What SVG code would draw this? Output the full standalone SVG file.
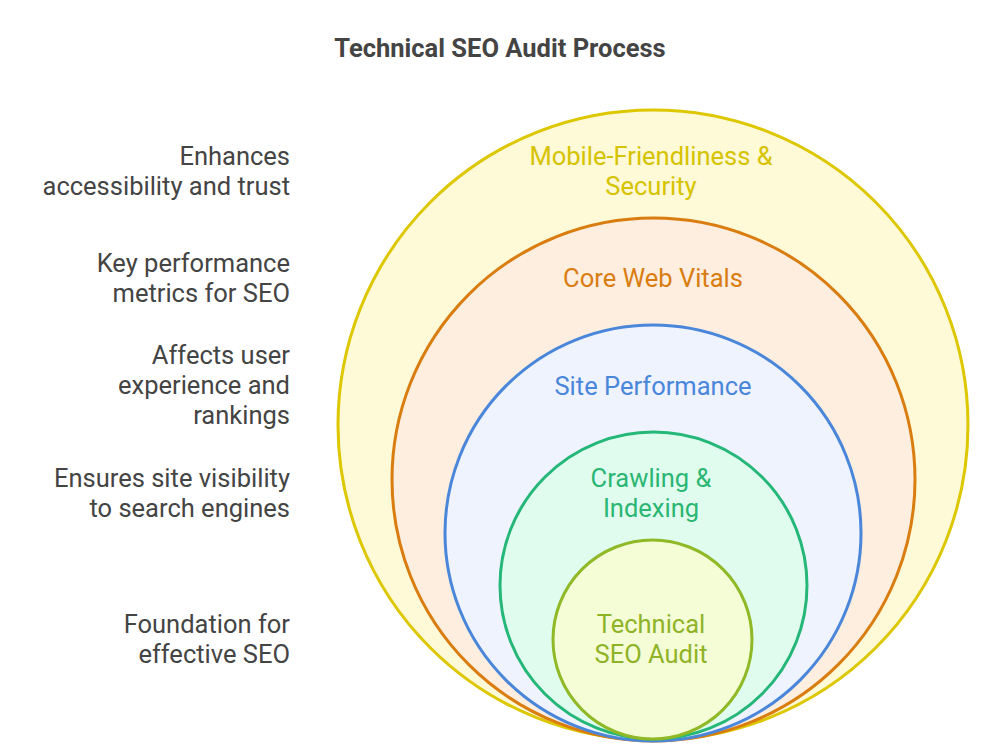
<svg xmlns="http://www.w3.org/2000/svg" width="1000" height="750" viewBox="0 0 1000 750">
<style>
text{font-family:Roboto,"Liberation Sans",sans-serif;font-size:25.5px}
.side{fill:#444;text-anchor:end}
.lbl{text-anchor:middle}
circle{stroke-width:3}
</style>
<rect width="1000" height="750" fill="#ffffff"/>
<text x="500" y="57" text-anchor="middle" font-weight="bold" fill="#444">Technical SEO Audit Process</text>
<g id="node-mobile">
<circle cx="653" cy="425" r="315" fill="#fef9d6" stroke="#dcc700"/>
<text class="lbl" x="651" y="165" fill="#d6c300">Mobile-Friendliness &amp;</text>
<text class="lbl" x="651" y="195" fill="#d6c300">Security</text>
</g>
<g id="node-cwv">
<circle cx="653.5" cy="479.5" r="261.5" fill="#fdeee0" stroke="#d97d10"/>
<text class="lbl" x="653" y="287" fill="#d97d10">Core Web Vitals</text>
</g>
<g id="node-perf">
<circle cx="653" cy="533" r="208" fill="#eef3fe" stroke="#4a86d9"/>
<text class="lbl" x="653" y="395" fill="#4a86d9">Site Performance</text>
</g>
<g id="node-crawl">
<circle cx="653.5" cy="585.5" r="153.5" fill="#e0fcef" stroke="#25b778"/>
<text class="lbl" x="651" y="487" fill="#2bb673">Crawling &amp;</text>
<text class="lbl" x="651" y="517" fill="#2bb673">Indexing</text>
</g>
<g id="node-audit">
<circle cx="652.5" cy="639.5" r="99.5" fill="#f5fdd6" stroke="#8fb927"/>
<text class="lbl" x="651" y="633" fill="#8fb327">Technical</text>
<text class="lbl" x="651" y="663" fill="#8fb327">SEO Audit</text>
</g>
<g id="side-labels">
<text class="side" x="290" y="165">Enhances</text>
<text class="side" x="290" y="195">accessibility and trust</text>
<text class="side" x="290" y="272">Key performance</text>
<text class="side" x="290" y="302">metrics for SEO</text>
<text class="side" x="290" y="364">Affects user</text>
<text class="side" x="290" y="394">experience and</text>
<text class="side" x="290" y="424">rankings</text>
<text class="side" x="290" y="487">Ensures site visibility</text>
<text class="side" x="290" y="517">to search engines</text>
<text class="side" x="290" y="633">Foundation for</text>
<text class="side" x="290" y="663">effective SEO</text>
</g>
<g id="connectors"></g>
</svg>
